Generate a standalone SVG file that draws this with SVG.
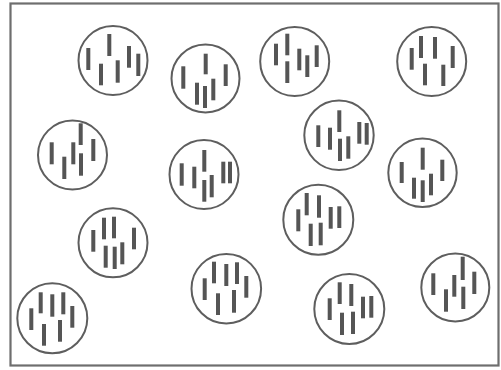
<svg xmlns="http://www.w3.org/2000/svg" width="501" height="370" viewBox="0 0 501 370">
<style>
.frame{fill:none;stroke:#6e6e6e;stroke-width:2.2}
.c{fill:none;stroke:#5e5e5e;stroke-width:2}
.b{fill:#555}
</style>
<rect width="501" height="370" fill="#fff"/>
<rect class="frame" x="10.5" y="3.5" width="488" height="362"/>
<g id="n1"><circle class="c" cx="113" cy="60.5" r="34.5"/>
<rect class="b" x="86.3" y="48" width="4" height="22"/><rect class="b" x="107.3" y="34" width="4" height="22"/><rect class="b" x="99" y="63.7" width="4" height="21.6"/><rect class="b" x="115.7" y="60.3" width="4" height="22.4"/><rect class="b" x="127" y="46" width="4" height="21.7"/><rect class="b" x="136.3" y="53.7" width="4" height="22.3"/></g>
<g id="n2"><circle class="c" cx="205.5" cy="78.5" r="34"/>
<rect class="b" x="181.3" y="66.3" width="4" height="22.4"/><rect class="b" x="203.7" y="53.7" width="4" height="20.6"/><rect class="b" x="195" y="82.7" width="4" height="22"/><rect class="b" x="203" y="86" width="4" height="22"/><rect class="b" x="211.3" y="78.7" width="4" height="21.6"/><rect class="b" x="223.7" y="64.3" width="4" height="21.7"/></g>
<g id="n3"><circle class="c" cx="294.7" cy="61.5" r="34.5"/>
<rect class="b" x="274" y="43.7" width="4" height="21.6"/><rect class="b" x="285.3" y="33.7" width="4" height="21.6"/><rect class="b" x="285.3" y="61.3" width="4" height="21.7"/><rect class="b" x="297.3" y="48.7" width="4" height="21.6"/><rect class="b" x="305.3" y="55.3" width="4" height="21.7"/><rect class="b" x="314.7" y="45.3" width="4" height="21.7"/></g>
<g id="n4"><circle class="c" cx="431.7" cy="61.5" r="34.5"/>
<rect class="b" x="409.7" y="48" width="4" height="21.7"/><rect class="b" x="419" y="36" width="4" height="22"/><rect class="b" x="423" y="63.7" width="4" height="21.6"/><rect class="b" x="433" y="37" width="4" height="21.7"/><rect class="b" x="441.3" y="64.7" width="4" height="21.3"/><rect class="b" x="450.7" y="46" width="4" height="22"/></g>
<g id="n5"><circle class="c" cx="72.5" cy="155" r="34.5"/>
<rect class="b" x="49.7" y="142.3" width="4" height="22"/><rect class="b" x="62.3" y="156.7" width="4" height="22.3"/><rect class="b" x="71.3" y="142.3" width="4" height="22"/><rect class="b" x="78.7" y="123.3" width="4" height="21.7"/><rect class="b" x="79" y="153.3" width="4" height="22.4"/><rect class="b" x="91.3" y="139" width="4" height="22"/></g>
<g id="n6"><circle class="c" cx="204" cy="174.5" r="34.5"/>
<rect class="b" x="179.7" y="163.3" width="4" height="22.4"/><rect class="b" x="192.3" y="166.7" width="4" height="21.6"/><rect class="b" x="202.3" y="150" width="4" height="21.7"/><rect class="b" x="202.3" y="180" width="4" height="21.7"/><rect class="b" x="209.7" y="175" width="4" height="22.3"/><rect class="b" x="221.3" y="161.7" width="4" height="21.6"/><rect class="b" x="228" y="161.7" width="4" height="21.6"/></g>
<g id="n7"><circle class="c" cx="339" cy="135.3" r="34.7"/>
<rect class="b" x="316.3" y="125.3" width="4" height="21.7"/><rect class="b" x="328" y="127.7" width="4" height="22"/><rect class="b" x="337.3" y="110.3" width="4" height="21.7"/><rect class="b" x="338" y="138.7" width="4" height="22.3"/><rect class="b" x="346.3" y="136.3" width="4" height="22.4"/><rect class="b" x="357.3" y="122" width="4" height="21.7"/><rect class="b" x="364.7" y="123" width="4" height="21.7"/></g>
<g id="n8"><circle class="c" cx="422.5" cy="172.8" r="34.2"/>
<rect class="b" x="399.7" y="162" width="4" height="21"/><rect class="b" x="420.7" y="147.7" width="4" height="22"/><rect class="b" x="412" y="177.7" width="4" height="21"/><rect class="b" x="420.7" y="180.3" width="4" height="21.7"/><rect class="b" x="429" y="173.7" width="4" height="21.6"/><rect class="b" x="440.3" y="159.7" width="4" height="21.3"/></g>
<g id="n9"><circle class="c" cx="113" cy="242.8" r="34.5"/>
<rect class="b" x="91.3" y="230" width="4" height="21.7"/><rect class="b" x="102" y="217.7" width="4" height="21.6"/><rect class="b" x="112" y="216.7" width="4" height="21.6"/><rect class="b" x="103.7" y="245.7" width="4" height="22"/><rect class="b" x="112.7" y="246.7" width="4" height="22.3"/><rect class="b" x="120.3" y="242.3" width="4" height="22"/><rect class="b" x="132" y="227.7" width="4" height="21.6"/></g>
<g id="n10"><circle class="c" cx="318.3" cy="219.7" r="35"/>
<rect class="b" x="296.3" y="209.3" width="4" height="22"/><rect class="b" x="304.7" y="193" width="4" height="22.3"/><rect class="b" x="317" y="195.3" width="4" height="22.4"/><rect class="b" x="308.7" y="223.7" width="4" height="22.3"/><rect class="b" x="318.7" y="222.7" width="4" height="22.6"/><rect class="b" x="328.7" y="207" width="4" height="21.7"/><rect class="b" x="337.3" y="206.3" width="4" height="21.7"/></g>
<g id="n11"><circle class="c" cx="52.3" cy="318.3" r="35"/>
<rect class="b" x="29.3" y="308.3" width="4" height="21.7"/><rect class="b" x="38.7" y="292.3" width="4" height="21"/><rect class="b" x="50.3" y="294.3" width="4" height="22.4"/><rect class="b" x="61.3" y="292.3" width="4" height="22"/><rect class="b" x="42" y="324" width="4" height="21.7"/><rect class="b" x="58" y="320" width="4" height="21.7"/><rect class="b" x="70.3" y="306" width="4" height="21.7"/></g>
<g id="n12"><circle class="c" cx="226.3" cy="288.7" r="34.8"/>
<rect class="b" x="202.7" y="278.3" width="4" height="21.7"/><rect class="b" x="212" y="261.7" width="4" height="21.6"/><rect class="b" x="224.3" y="264" width="4" height="22"/><rect class="b" x="235" y="262.3" width="4" height="21.7"/><rect class="b" x="216" y="293.3" width="4" height="21.7"/><rect class="b" x="232" y="290" width="4" height="22.7"/><rect class="b" x="244.3" y="276" width="4" height="21.7"/></g>
<g id="n13"><circle class="c" cx="349.3" cy="309" r="35"/>
<rect class="b" x="327.7" y="298.3" width="4" height="21.7"/><rect class="b" x="337.7" y="282.3" width="4" height="21.7"/><rect class="b" x="349.3" y="284" width="4" height="22"/><rect class="b" x="340" y="312.7" width="4" height="22.3"/><rect class="b" x="351" y="311.7" width="4" height="22.3"/><rect class="b" x="361" y="296.7" width="4" height="21.6"/><rect class="b" x="369.3" y="296" width="4" height="21.7"/></g>
<g id="n14"><circle class="c" cx="455.3" cy="287.5" r="34"/>
<rect class="b" x="431.3" y="273.3" width="4" height="21.7"/><rect class="b" x="444" y="289.3" width="4" height="22.4"/><rect class="b" x="452.3" y="275" width="4" height="21.7"/><rect class="b" x="460.7" y="256.7" width="4" height="23.3"/><rect class="b" x="461.3" y="286.7" width="4" height="22.3"/><rect class="b" x="472.3" y="271.7" width="4" height="22.3"/></g>
<g id="connectors"></g>
</svg>
